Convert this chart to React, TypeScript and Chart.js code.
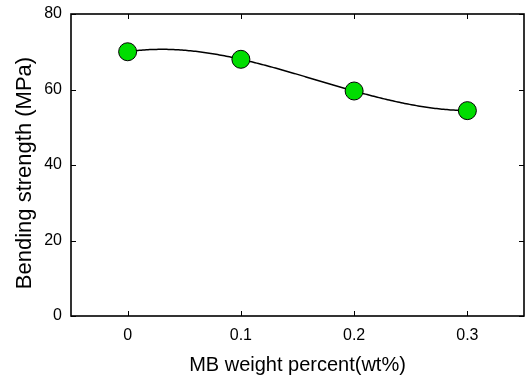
import React, { useEffect, useRef } from "react";
import { Chart, registerables } from "chart.js";

Chart.register(...registerables);

const weightPercent = [0, 0.1, 0.2, 0.3];
const bendingStrength = [70.0, 68.0, 59.6, 54.4];
const xTicks = [0, 0.1, 0.2, 0.3];
const yTicks = [0, 20, 40, 60, 80];
const yTitle = "Bending strength (MPa)";
const xTitle = "MB weight percent(wt%)";

function lagrange(xs: number[], ys: number[], x: number) {
  let s = 0;
  for (let i = 0; i < xs.length; i++) {
    let t = ys[i];
    for (let j = 0; j < xs.length; j++) {
      if (j !== i) t *= (x - xs[j]) / (xs[i] - xs[j]);
    }
    s += t;
  }
  return s;
}

const PLOT_TOP = 14;

const framePlugin = {
  id: "framePlugin",
  afterLayout(chart: any) {
    const a = chart.chartArea;
    a.top = PLOT_TOP;
    a.height = a.bottom - PLOT_TOP;
    const y = chart.scales.y;
    y.top = PLOT_TOP;
    y.height = y.bottom - PLOT_TOP;
    y.configure();
    y._labelItems = null;
    y._gridLineItems = null;
  },
  beforeDatasetsDraw(chart: any) {
    const { ctx, scales } = chart;
    const xs = scales.x, ys = scales.y;
    ctx.save();
    ctx.beginPath();
    const x0 = weightPercent[0], x1 = weightPercent[weightPercent.length - 1];
    const n = 200;
    for (let i = 0; i <= n; i++) {
      const xv = x0 + ((x1 - x0) * i) / n;
      const yv = lagrange(weightPercent, bendingStrength, xv);
      const px = xs.getPixelForValue(xv), py = ys.getPixelForValue(yv);
      if (i === 0) ctx.moveTo(px, py); else ctx.lineTo(px, py);
    }
    ctx.strokeStyle = "#000";
    ctx.lineWidth = 1.5;
    ctx.stroke();
    ctx.restore();
  },
  afterDraw(chart: any) {
    const { ctx, chartArea: a, scales } = chart;
    ctx.save();
    ctx.strokeStyle = "#000";
    ctx.lineWidth = 1.6;
    ctx.strokeRect(a.left, a.top, a.right - a.left, a.bottom - a.top);
    ctx.lineWidth = 1;
    const L = 5;
    ctx.beginPath();
    for (const v of xTicks) {
      const px = Math.round(scales.x.getPixelForValue(v)) + 0.5;
      ctx.moveTo(px, a.bottom); ctx.lineTo(px, a.bottom - L);
      ctx.moveTo(px, a.top); ctx.lineTo(px, a.top + L);
    }
    for (const v of yTicks) {
      const py = Math.round(scales.y.getPixelForValue(v)) + 0.5;
      ctx.moveTo(a.left, py); ctx.lineTo(a.left + L, py);
      ctx.moveTo(a.right, py); ctx.lineTo(a.right - L, py);
    }
    ctx.stroke();
    // y axis title
    ctx.translate(25, (a.top + a.bottom) / 2 + 8);
    ctx.rotate(-Math.PI / 2);
    ctx.font = "22px 'Liberation Sans'";
    ctx.fillStyle = "#000";
    ctx.textAlign = "center";
    ctx.textBaseline = "middle";
    ctx.fillText(yTitle, 0, 0);
    ctx.restore();
  },
};

export default function App() {
  const ref = useRef<HTMLCanvasElement | null>(null);
  useEffect(() => {
    document.body.style.margin = "0";
    const chart = new Chart(ref.current!, {
      type: "scatter",
      data: {
        datasets: [
          {
            data: weightPercent.map((x, i) => ({ x, y: bendingStrength[i] })),
            backgroundColor: "#00dd00",
            borderColor: "#000",
            borderWidth: 1,
            pointRadius: 9,
            showLine: false,
          },
        ],
      },
      options: {
        responsive: false,
        animation: false,
        layout: { autoPadding: false, padding: { left: 0, right: 7, top: 14, bottom: 0 } },
        plugins: { legend: { display: false }, tooltip: { enabled: false } },
        scales: {
          x: {
            type: "linear",
            min: -0.05,
            max: 0.35,
            afterBuildTicks: (s: any) => { s.ticks = xTicks.map((v) => ({ value: v })); },
            afterFit: (s: any) => { s.height = 66; },
            grid: { display: false, drawTicks: false },
            border: { display: false },
            ticks: {
              color: "#000",
              padding: 10,
              font: { family: "Liberation Sans", size: 16 },
              callback: (v: any) => String(v),
            },
            title: {
              display: true,
              text: xTitle,
              color: "#000",
              font: { family: "Liberation Sans", size: 20 },
              padding: { top: 0, bottom: 5 },
            },
          },
          y: {
            type: "linear",
            min: 0,
            max: 80,
            afterBuildTicks: (s: any) => { s.ticks = yTicks.map((v) => ({ value: v })); },
            afterFit: (s: any) => { s.width = 71; },
            grid: { display: false, drawTicks: false },
            border: { display: false },
            ticks: {
              color: "#000",
              padding: 9,
              font: { family: "Liberation Sans", size: 16 },
            },
            title: { display: false },
          },
        },
      },
      plugins: [framePlugin],
    });
    return () => chart.destroy();
  }, []);
  return (
    <div style={{ width: 531, height: 382, background: "#fff" }}>
      <canvas ref={ref} width={531} height={382} style={{ display: "block" }} />
    </div>
  );
}
